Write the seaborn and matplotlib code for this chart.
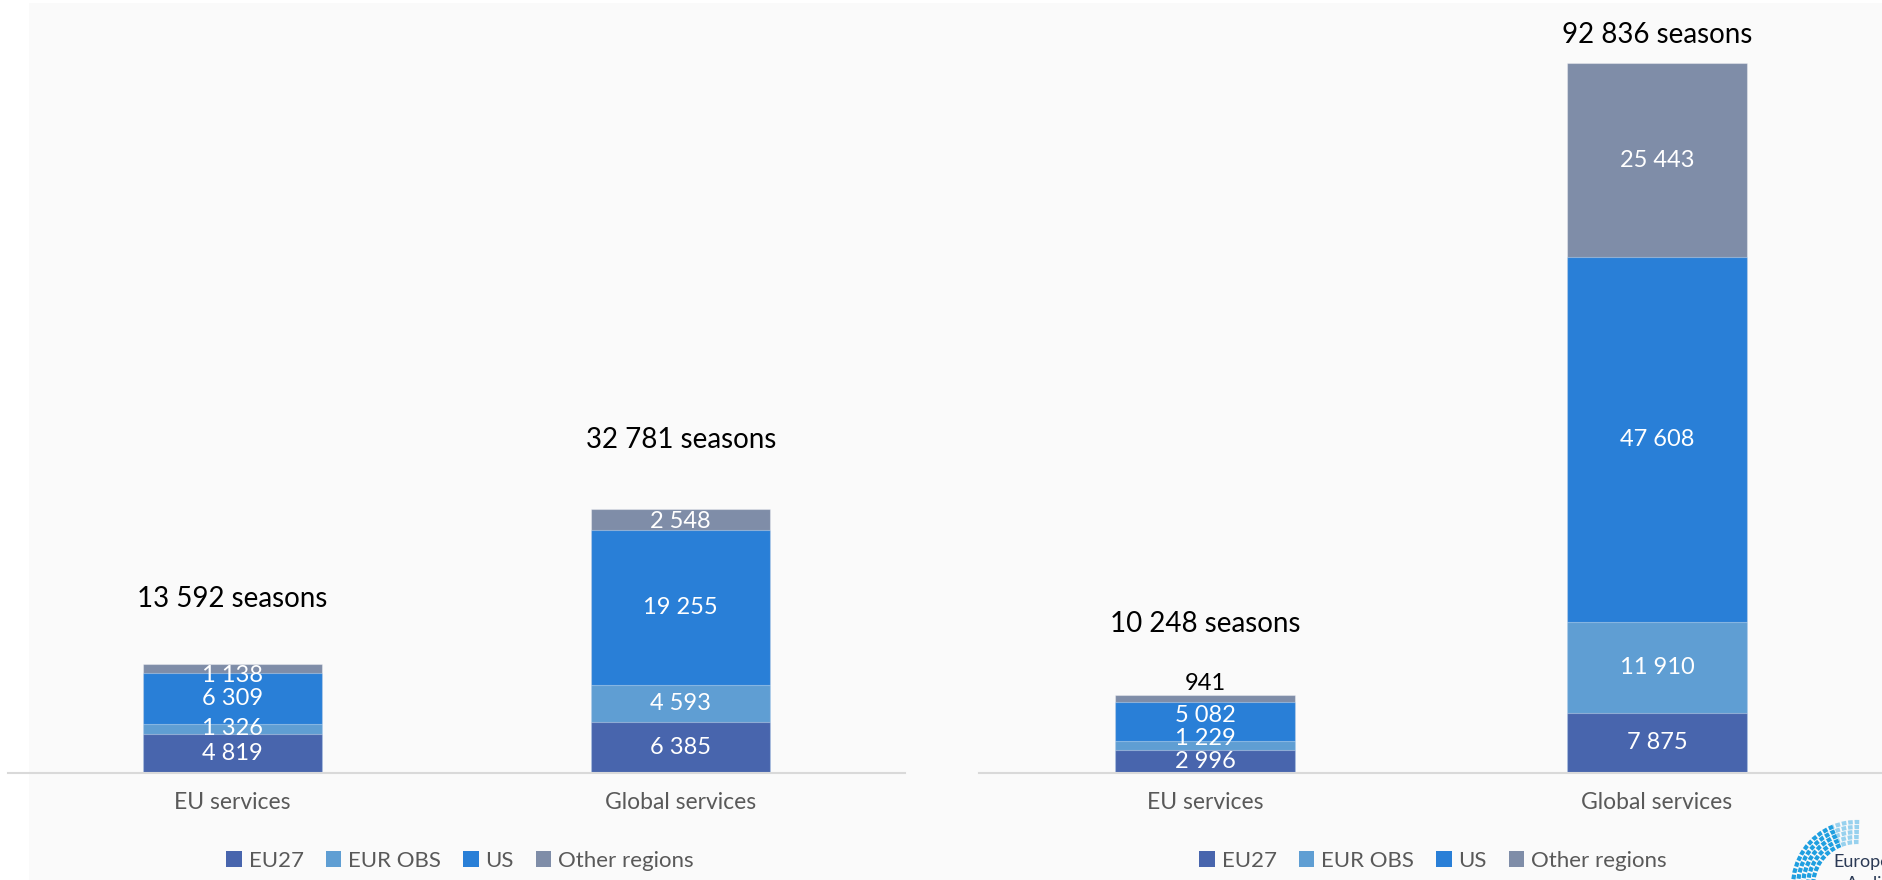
import numpy as np
import pandas as pd
import seaborn as sns
import matplotlib.pyplot as plt
from matplotlib.patches import Rectangle, Arc, Patch

# Data
categories = ['EU services', 'Global services']
regions = ['EU27', 'EUR OBS', 'US', 'Other regions']
colors = ['#4865ad', '#5f9ed3', '#297fd7', '#7f8da8']

left_eu27 = [4819, 6385]
left_eurobs = [1326, 4593]
left_us = [6309, 19255]
left_other = [1138, 2548]
left_totals = [13592, 32781]

right_eu27 = [2996, 7875]
right_eurobs = [1229, 11910]
right_us = [5082, 47608]
right_other = [941, 25443]
right_totals = [10248, 92836]

sns.set_style('white')
plt.rcParams['font.family'] = ['Lato', 'DejaVu Sans']

W, H = 1883, 880
fig = plt.figure(figsize=(W / 100, H / 100), dpi=100)

# light panel background
fig.patches.append(Rectangle((29 / W, 0), 1, (H - 3) / H, transform=fig.transFigure,
                             facecolor='#fafafa', edgecolor='none', zorder=-10))

AX_H = 770  # axes height in px


def fmt(v):
    return f'{v:,}'.replace(',', ' ')


def draw_panel(ax, layers, totals, ymax, total_off_px, outside):
    cum = np.zeros(len(categories))
    tops = []
    for vals in layers:
        cum = cum + np.array(vals)
        tops.append(cum.copy())
    # draw tallest layer first so lower layers sit on top
    for i in reversed(range(len(layers))):
        sns.barplot(x=categories, y=tops[i], color=colors[i], width=0.4, saturation=1,
                    edgecolor=(1, 1, 1, 0.35), linewidth=0.8, ax=ax)

    ax.set_xlim(-0.5, 1.5)
    ax.set_ylim(0, ymax)
    px = AX_H / ymax  # pixels per unit
    min_sep = 23 / px

    for j in range(len(categories)):
        inside = []
        bottom = 0
        for i, vals in enumerate(layers):
            v = vals[j]
            top = bottom + v
            if (j, i) in outside:
                ax.text(j, top + 11 / px, fmt(v), ha='center', va='center',
                        fontsize=17, color='black')
            else:
                inside.append([v, (bottom + top) / 2, top])
            bottom = top
        # spread labels upward, then keep them under the bar top
        prev = -1e9
        for lab in inside:
            lab[1] = max(lab[1], prev + min_sep)
            prev = lab[1]
        cap = inside[-1][2] - 12 / px
        for lab in reversed(inside):
            lab[1] = min(lab[1], cap)
            cap = lab[1] - min_sep
        for v, y, _ in inside:
            ax.text(j, y, fmt(v), ha='center', va='center', fontsize=17, color='white')
        ax.annotate(f'{fmt(totals[j])} seasons', xy=(j, totals[j]),
                    xytext=(0, total_off_px[j] * 0.72), textcoords='offset points',
                    ha='center', va='center', fontsize=20, color='black')

    ax.set_facecolor('none')
    sns.despine(ax=ax, left=True)
    ax.spines['bottom'].set_color('#d9d9d9')
    ax.spines['bottom'].set_linewidth(1.5)
    ax.set_yticks([])
    ax.tick_params(axis='x', length=0, pad=14, labelsize=16.5, labelcolor='#595959')
    ax.set_xlabel('')
    ax.set_ylabel('')


ax1 = fig.add_axes([8 / W, (H - 773) / H, 897 / W, AX_H / H])
ax2 = fig.add_axes([979 / W, (H - 773) / H, 904 / W, AX_H / H])

draw_panel(ax1, [left_eu27, left_eurobs, left_us, left_other], left_totals,
           95650, [65, 69], set())
draw_panel(ax2, [right_eu27, right_eurobs, right_us, right_other], right_totals,
           100640, [71, 28], {(0, 3)})

handles = [Patch(facecolor=c, edgecolor='none') for c in colors]
for ax, cx in [(ax1, 460), (ax2, 1433)]:
    ax.legend(handles, regions, loc='center', bbox_to_anchor=(cx / W, 19 / H),
              bbox_transform=fig.transFigure, ncol=4, frameon=False, fontsize=16,
              handlelength=0.7, handleheight=0.7, handletextpad=0.3,
              columnspacing=1.0, labelcolor='#595959')

# logo (partially cut at the figure edge)
lg = fig.add_axes([0, 0, 1, 1], zorder=5)
lg.set_xlim(0, W)
lg.set_ylim(0, H)
lg.axis('off')
lg.patch.set_alpha(0)
for r in [44, 49, 54, 59, 64]:
    lg.add_patch(Arc((1857, -6), 2 * r, 2 * r, theta1=112, theta2=180, color='#1f9fe0',
                     lw=3.0, linestyle=(0, (1.1, 0.45))))
    lg.add_patch(Arc((1857, -6), 2 * r, 2 * r, theta1=88, theta2=112, color='#1f9fe0',
                     lw=3.0, alpha=0.45, linestyle=(0, (1.1, 0.45))))
lg.text(1833, H - 862, 'European', fontsize=13, color='#2b3a55', va='center', ha='left')
lg.text(1846, H - 884, 'Audiovisual', fontsize=13, color='#2b3a55', va='center', ha='left')

plt.savefig('out.png', dpi=100)
plt.close()
